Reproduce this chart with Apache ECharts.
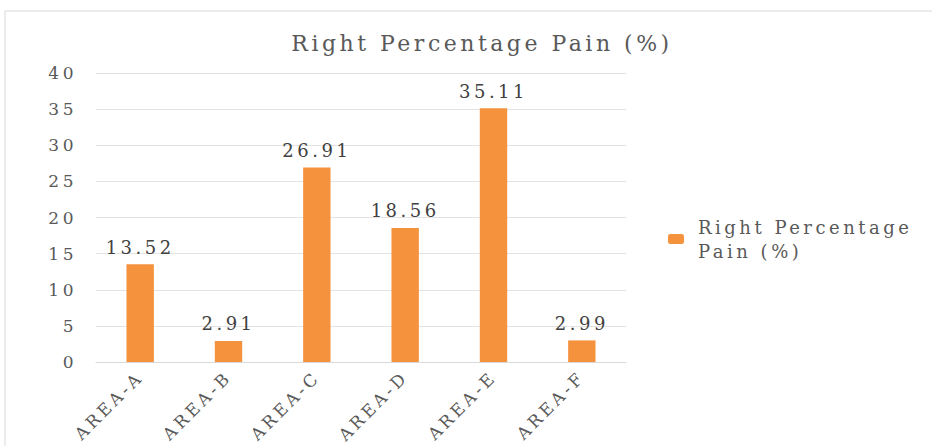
<!DOCTYPE html>
<html>
<head>
<meta charset="utf-8">
<script src="https://cdn.jsdelivr.net/npm/echarts@6/dist/echarts.min.js"></script>
<style>
  html, body { margin: 0; padding: 0; background: #fff; }
  #main { width: 932px; height: 446px; }
  /* the source chart draws its text very wide */
  #main text { letter-spacing: 3.5px; }
</style>
</head>
<body>
<div id="main"></div>
<script>
var categories = ['AREA-A', 'AREA-B', 'AREA-C', 'AREA-D', 'AREA-E', 'AREA-F'];
var painValues = [13.52, 2.91, 26.91, 18.56, 35.11, 2.99];
var seriesName = 'Right Percentage Pain (%)';
var yTicks = { min: 0, max: 40, interval: 5 };

var dom = document.getElementById('main');
var myChart = echarts.init(dom, null, { renderer: 'svg' });
var serif = '"DejaVu Serif", "Liberation Serif", serif';

var option = {
  backgroundColor: '#fff',
  animation: false,
  graphic: [{
    type: 'rect',
    shape: { x: 5, y: 11, width: 940, height: 460 },
    style: { fill: 'none', stroke: '#d9d9d9', lineWidth: 1 },
    silent: true
  }],
  title: {
    text: 'Right Percentage Pain (%)',
    left: 477,
    top: 27,
    textAlign: 'center',
    textStyle: { fontFamily: serif, fontSize: 22, fontWeight: 'normal', color: '#595959' }
  },
  legend: {
    orient: 'vertical',
    left: 668,
    top: 203,
    padding: 0,
    itemWidth: 16,
    itemHeight: 10,
    formatter: function () { return 'Right Percentage\nPain (%)'; },
    textStyle: { fontFamily: serif, fontSize: 18, color: '#595959', lineHeight: 24, padding: [24, 0, 0, 9] }
  },
  grid: { left: 96, right: 306, top: 73, bottom: 84, containLabel: false },
  xAxis: {
    type: 'category',
    data: categories,
    axisLine: { lineStyle: { color: '#d9d9d9' } },
    axisTick: { show: false },
    axisLabel: { rotate: 45, margin: 12, fontFamily: serif, fontSize: 17, color: '#595959' }
  },
  yAxis: {
    type: 'value',
    min: yTicks.min,
    max: yTicks.max,
    interval: yTicks.interval,
    axisLine: { show: false },
    axisTick: { show: false },
    splitLine: { lineStyle: { color: '#e3e3e3' } },
    axisLabel: { margin: 19, fontFamily: serif, fontSize: 17, color: '#595959' }
  },
  series: [{
    name: seriesName,
    type: 'bar',
    data: painValues,
    barWidth: '31%',
    itemStyle: { color: '#F5923E' },
    label: {
      show: true,
      position: 'top',
      distance: 8,
      fontFamily: serif,
      fontSize: 18,
      color: '#404040',
      formatter: function (p) { return p.value.toFixed(2); }
    }
  }]
};

if (option && typeof option === 'object') {
  myChart.setOption(option);
}
window.addEventListener('resize', myChart.resize);
</script>
</body>
</html>
